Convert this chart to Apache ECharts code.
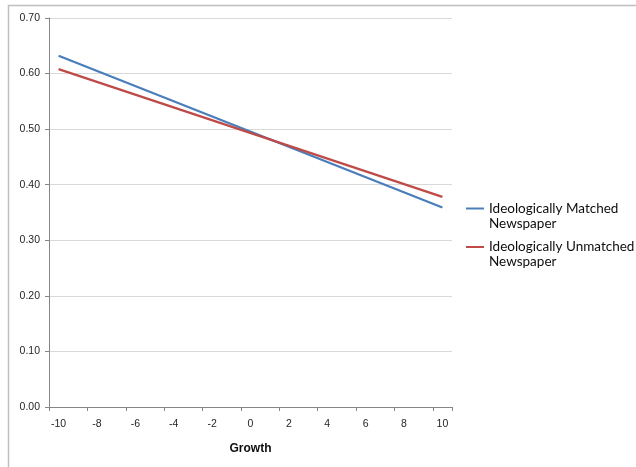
<!DOCTYPE html>
<html>
<head>
<meta charset="utf-8">
<script src="https://cdn.jsdelivr.net/npm/echarts@6/dist/echarts.min.js"></script>
<style>
  html, body { margin: 0; padding: 0; background: #fff; }
  #chart { width: 636px; height: 467px; }
</style>
</head>
<body>
<div id="chart"></div>
<script>
// Growth categories along the x axis (-10 ... 10)
const growth = ['-10','-9','-8','-7','-6','-5','-4','-3','-2','-1','0','1','2','3','4','5','6','7','8','9','10'];

// Predicted values at the two ends of each straight line
const matchedPoints = [['-10', 0.632], ['10', 0.359]];
const unmatchedPoints = [['-10', 0.608], ['10', 0.378]];

const seriesNames = ['Ideologically Matched\nNewspaper', 'Ideologically Unmatched\nNewspaper'];
const seriesColors = ['#4a7ebb', '#be4b48'];

// Y axis ticks 0.00 ... 0.70
const yMin = 0, yMax = 0.7, yStep = 0.1;

const axisGray = '#868686';
const labelFont = 'Liberation Sans';

const chart = echarts.init(document.getElementById('chart'), null, { renderer: 'canvas' });

chart.setOption({
  animation: false,
  backgroundColor: '#ffffff',
  grid: { left: 49, right: 184, top: 18, bottom: 60, containLabel: false },
  graphic: [
    // outer frame edges (top and left)
    { type: 'polyline', silent: true,
      shape: { points: [[8.5, 467], [8.5, 5.5], [636, 5.5]] },
      style: { stroke: '#bfbfbf', lineWidth: 1.5, fill: null } }
  ],
  legend: {
    orient: 'vertical',
    left: 466,
    top: 186,
    padding: 0,
    itemWidth: 18,
    itemHeight: 14,
    itemGap: -6.5,
    // a leading blank line keeps the key line level with the first text line
    formatter: name => '\n' + name,
    data: seriesNames.map((n, i) => ({ name: n, icon: 'path://M0,6.9 L20,6.9 L20,9.1 L0,9.1 Z', itemStyle: { color: seriesColors[i] } })),
    textStyle: {
      fontFamily: 'Lato',
      fontSize: 13.5,
      color: '#0d0d0d',
      lineHeight: 15
    }
  },
  xAxis: {
    type: 'category',
    data: growth,
    boundaryGap: true,
    name: 'Growth',
    nameLocation: 'middle',
    nameGap: 36,
    nameTextStyle: { fontFamily: labelFont, fontSize: 12, fontWeight: 'bold', color: '#0d0d0d' },
    axisLine: { lineStyle: { color: axisGray, width: 1 } },
    axisTick: { show: true, interval: 1, length: 4, lineStyle: { color: axisGray } },
    axisLabel: { interval: 1, margin: 12, fontFamily: labelFont, fontSize: 10.5, color: '#262626' },
    splitLine: { show: false }
  },
  yAxis: {
    type: 'value',
    min: yMin,
    max: yMax,
    interval: yStep,
    axisLine: { show: true, lineStyle: { color: axisGray, width: 1 } },
    axisTick: { show: true, length: 4, lineStyle: { color: axisGray } },
    axisLabel: { margin: 9, fontFamily: labelFont, fontSize: 10.5, color: '#262626',
      formatter: v => v.toFixed(2) },
    splitLine: { show: true, lineStyle: { color: '#d9d9d9', width: 1 } }
  },
  series: [
    { name: seriesNames[0], type: 'line', data: matchedPoints, symbol: 'none',
      lineStyle: { color: seriesColors[0], width: 2.25 }, itemStyle: { color: seriesColors[0] } },
    { name: seriesNames[1], type: 'line', data: unmatchedPoints, symbol: 'none',
      lineStyle: { color: seriesColors[1], width: 2.25 }, itemStyle: { color: seriesColors[1] } }
  ]
});
</script>
</body>
</html>
